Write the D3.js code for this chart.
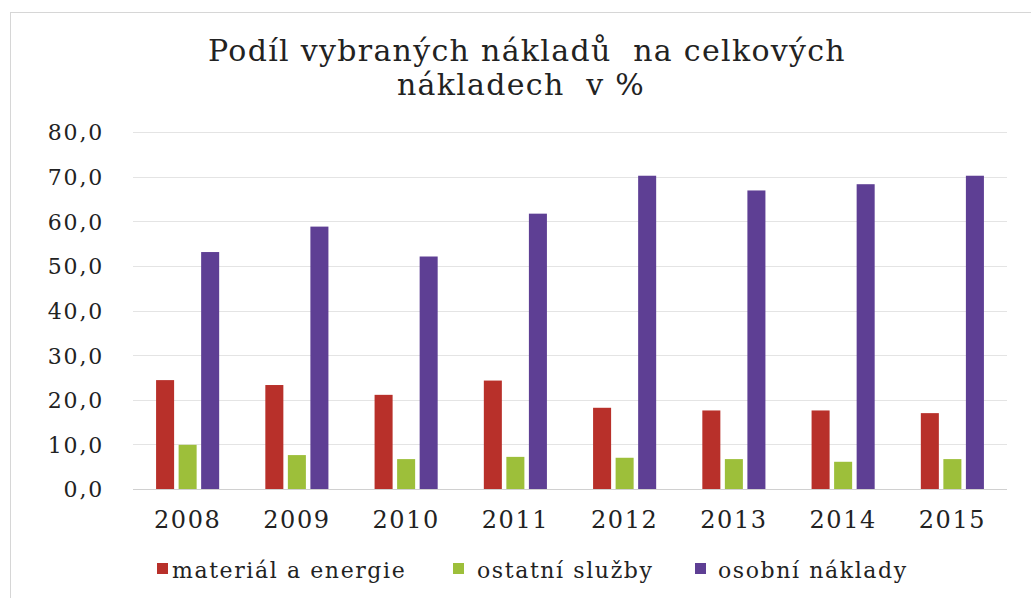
<!DOCTYPE html>
<html><head><meta charset="utf-8">
<script src="https://cdn.jsdelivr.net/npm/d3@7"></script>
<style>body{margin:0;background:#fff}svg{display:block}</style>
</head><body>
<script>
const years = ["2008","2009","2010","2011","2012","2013","2014","2015"];
const seriesNames = ["materiál a energie","ostatní služby","osobní náklady"];
const material = [24.4,23.3,21.1,24.3,18.2,17.6,17.6,17.0];
const sluzby = [9.9,7.6,6.7,7.2,7.0,6.7,6.1,6.7];
const osobni = [53.1,58.8,52.1,61.7,70.2,66.9,68.3,70.2];
const yTicks = [0,10,20,30,40,50,60,70,80];
const colors = ["#b8302a","#9dbf3a","#5e3f94"];
const titleLines = ["Podíl vybraných nákladů  na celkových","nákladech  v %"];

const W=1031,H=598;
const svg=d3.select("body").append("svg").attr("width",W).attr("height",H);
svg.append("rect").attr("x",10.5).attr("y",12.5).attr("width",1040).attr("height",600)
  .attr("fill","#fff").attr("stroke","#d6d6d6");

const serif="DejaVu Serif";
const m={left:133,right:1007,top:132,bottom:489};
const x0=d3.scaleBand().domain(years).range([m.left,m.right]).paddingInner(0.34).paddingOuter(0.17);
const x1=d3.scaleBand().domain(seriesNames).range([0,x0.bandwidth()]).padding(0.2);
const y=d3.scaleLinear().domain([0,80]).range([m.bottom,m.top]);

svg.append("g").selectAll("line").data(yTicks).join("line")
  .attr("x1",m.left).attr("x2",m.right)
  .attr("y1",d=>Math.round(y(d))+0.5).attr("y2",d=>Math.round(y(d))+0.5)
  .attr("stroke",d=>d===0?"#d0d0d0":"#e4e4e4").attr("stroke-width",1);

const yAxis=d3.axisLeft(y).tickValues(yTicks).tickSize(0).tickPadding(0)
  .tickFormat(d=>d3.format(".1f")(d).replace(".",","));
const gy=svg.append("g").attr("transform",`translate(104,0)`).call(yAxis);
gy.select(".domain").remove();
gy.selectAll("text").attr("font-family",serif).attr("font-size",22).attr("fill","#222")
  .attr("letter-spacing",1.8).attr("dy","0.36em");

const xAxis=d3.axisBottom(x0).tickSize(0).tickPadding(0);
const gx=svg.append("g").attr("transform",`translate(0,511)`).call(xAxis);
gx.select(".domain").remove();
gx.selectAll("text").attr("font-family",serif).attr("font-size",24).attr("fill","#222")
  .attr("letter-spacing",1.5).attr("dy","0.71em");

const data=years.map((yr,i)=>({yr,vals:[material[i],sluzby[i],osobni[i]]}));
const groups=svg.append("g").selectAll("g").data(data).join("g")
  .attr("transform",d=>`translate(${x0(d.yr)},0)`);
groups.selectAll("rect").data(d=>d.vals.map((v,j)=>({v,s:seriesNames[j],j}))).join("rect")
  .attr("x",d=>x1(d.s)).attr("width",x1.bandwidth())
  .attr("y",d=>y(d.v)).attr("height",d=>y(0)-y(d.v))
  .attr("fill",d=>colors[d.j]);

svg.append("text").attr("x",527).attr("y",61).attr("text-anchor","middle")
  .attr("font-family",serif).attr("font-size",30).attr("fill","#222").attr("letter-spacing",1.3)
  .style("white-space","pre").text(titleLines[0]);
svg.append("text").attr("x",521).attr("y",95).attr("text-anchor","middle")
  .attr("font-family",serif).attr("font-size",30).attr("fill","#222").attr("letter-spacing",1.3)
  .style("white-space","pre").text(titleLines[1]);

const legSq=[157,453,695];
const legTx=[172,477,718];
const lg=svg.append("g").selectAll("g").data(seriesNames).join("g");
lg.append("rect").attr("x",(d,i)=>legSq[i]).attr("y",563).attr("width",11).attr("height",11).attr("fill",(d,i)=>colors[i]);
lg.append("text").attr("x",(d,i)=>legTx[i]).attr("y",578).attr("font-family",serif).attr("font-size",22)
  .attr("letter-spacing",1.6).attr("fill","#222").text(d=>d);
</script>
</body></html>
